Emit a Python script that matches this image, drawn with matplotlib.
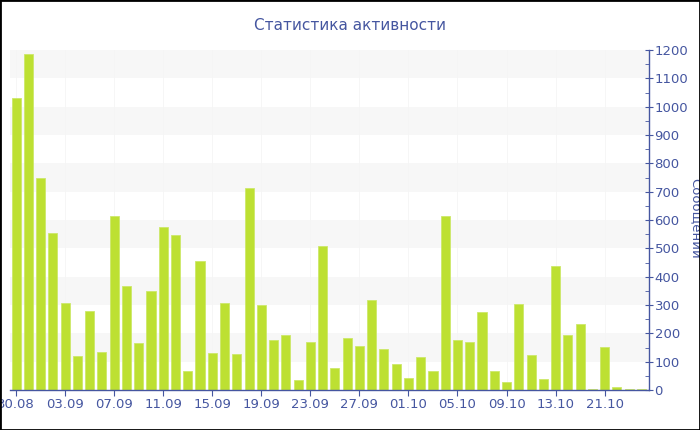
import matplotlib
matplotlib.use("Agg")
import matplotlib.pyplot as plt
from matplotlib.ticker import MultipleLocator
from matplotlib.patches import Rectangle

dates = ["30.08", "31.08"] + ["%02d.09" % d for d in range(1, 31)] + \
        ["%02d.10" % d for d in range(1, 16)] + ["20.10", "21.10", "22.10", "23.10", "24.10"]
values = [1029, 1186, 747, 553, 308, 119, 280, 134, 615, 366,
          165, 349, 574, 546, 67, 454, 129, 306, 127, 713,
          299, 175, 193, 36, 168, 507, 79, 185, 155, 319,
          145, 92, 41, 116, 67, 613, 176, 169, 274, 67,
          27, 302, 124, 40, 436, 195, 233, 5, 151, 12,
          5, 5]
title = "Статистика активности"
ylabel = "Сообщений"

blue = "#4556a0"
bar_color = "#bde032"

fig = plt.figure(figsize=(7, 4.3), dpi=100)
ax = fig.add_axes([10/700, 40/430, 639/700, 340/430])

n = len(values)
x = list(range(n))
ax.set_xlim(-0.5, n - 1 + 0.62)
ax.set_ylim(0, 1200)

# alternating bands
for lo in range(100, 1200, 200):
    ax.axhspan(lo, lo + 100, color="#f7f7f7", zorder=0, lw=0)
for i in range(0, n, 4):
    ax.axvline(i, color="#f5f5f5", lw=0.6, zorder=0.5)

ax.bar(x, values, width=0.74, color=bar_color, edgecolor="#cde86a", linewidth=0.6, zorder=2)

ax.yaxis.tick_right()
ax.yaxis.set_label_position("right")
ax.yaxis.set_major_locator(MultipleLocator(100))
ax.yaxis.set_minor_locator(MultipleLocator(50))
ax.tick_params(axis="y", which="major", direction="inout", length=6, color=blue,
               labelcolor=blue, labelsize=9.5, pad=1)
ax.tick_params(axis="y", which="minor", direction="in", length=3, color=blue)

ax.set_xticks(x[::4])
ax.set_xticklabels(dates[::4])
ax.tick_params(axis="x", direction="out", length=4, color=blue, labelcolor=blue,
               labelsize=9.5, pad=2)

for s in ["top", "left"]:
    ax.spines[s].set_visible(False)
ax.spines["bottom"].set_color(blue)
ax.spines["right"].set_color(blue)
ax.spines["bottom"].set_linewidth(1)
ax.spines["right"].set_linewidth(1)

fig.text(0.5, 1 - 25/430, title, ha="center", va="center", color=blue, fontsize=11)
fig.text(0.993, 1 - 218/430, ylabel, ha="center", va="center", rotation=270,
         color=blue, fontsize=9.5)

fig.patches.append(Rectangle((0, 0), 1, 1, transform=fig.transFigure, fill=False,
                             edgecolor="black", linewidth=2, zorder=10))

fig.savefig("out.png", dpi=100)
